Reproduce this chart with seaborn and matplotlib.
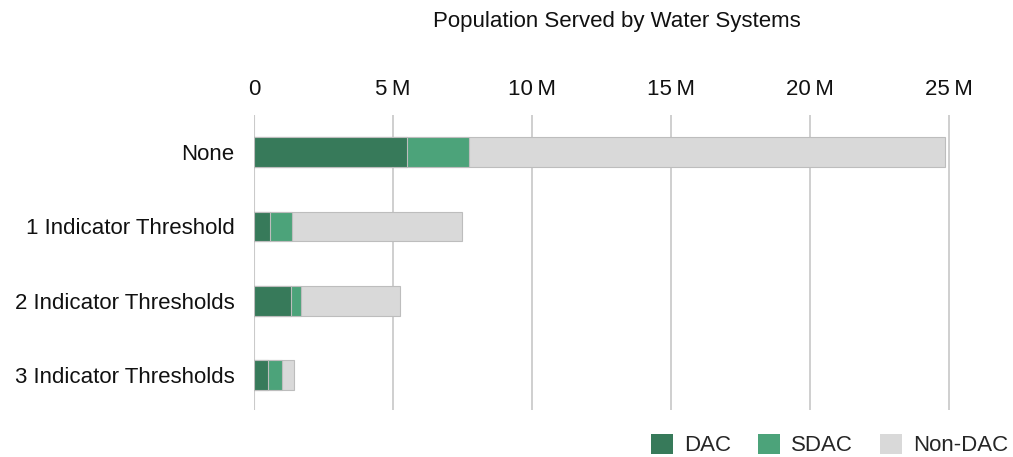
import matplotlib
matplotlib.use("Agg")
import matplotlib.pyplot as plt
import seaborn as sns
import pandas as pd
import numpy as np
from matplotlib.patches import Patch

categories = ["None", "1 Indicator Threshold", "2 Indicator Thresholds", "3 Indicator Thresholds"]
dac = [5.51, 0.59, 1.34, 0.50]        # millions
sdac = [2.24, 0.78, 0.36, 0.50]
non_dac = [17.10, 6.12, 3.54, 0.43]
series_names = ["DAC", "SDAC", "Non-DAC"]
colors = ["#377a5a", "#4ca37a", "#d9d9d9"]
xticks = [0, 5, 10, 15, 20, 25]
xtick_labels = ["0", "5\u2009M", "10\u2009M", "15\u2009M", "20\u2009M", "25\u2009M"]

sns.set_theme(style="white")
plt.rcParams["font.family"] = ["Liberation Sans", "DejaVu Sans"]

df = pd.DataFrame({"category": categories, "DAC": dac, "SDAC": sdac, "Non-DAC": non_dac})
df["c1"] = df["DAC"]
df["c2"] = df["DAC"] + df["SDAC"]
df["c3"] = df["c2"] + df["Non-DAC"]

fig = plt.figure(figsize=(10.13, 4.57), dpi=100)
ax = fig.add_axes([254 / 1013, 1 - 410 / 457, (954.6 - 254) / 1013, (410 - 115) / 457])

for col, color in zip(["c3", "c2", "c1"], colors[::-1]):
    sns.barplot(data=df, y="category", x=col, orient="h", color=color, width=0.4,
                edgecolor="#bdbdbd", linewidth=0.8, saturation=1, ax=ax, order=categories)

ax.set_xlim(0, 25.2)
ax.set_ylim(3.47, -0.5)
ax.set_xticks(xticks)
ax.set_xticklabels(xtick_labels)
ax.xaxis.tick_top()
ax.tick_params(axis="x", which="both", length=0, pad=10.5, labelsize=16, labelcolor="#111111",
               top=False, labeltop=True, bottom=False, labelbottom=False)
ax.tick_params(axis="y", length=0, pad=14, labelsize=16, labelcolor="#111111")
ax.set_xlabel("")
ax.set_ylabel("")
for s in ax.spines.values():
    s.set_visible(False)
ax.grid(axis="x", color="#cccccc", linewidth=1.3)
ax.set_axisbelow(True)
ax.axvline(0, color="#bbbbbb", linewidth=1.5, zorder=0.5)

fig.text(617 / 1013, 1 - 22 / 457, "Population Served by Water Systems", ha="center", va="center",
         fontsize=16, color="#111111")

handles = [Patch(facecolor=c, edgecolor="none") for c in colors]
fig.legend(handles, series_names, loc="center right", bbox_to_anchor=(1008 / 1013, 1 - 445 / 457),
           ncol=3, frameon=False, fontsize=16, handlelength=1.0, handleheight=1.0,
           handletextpad=0.5, columnspacing=1.2, borderpad=0, borderaxespad=0)

fig.savefig("out.png", dpi=100)
